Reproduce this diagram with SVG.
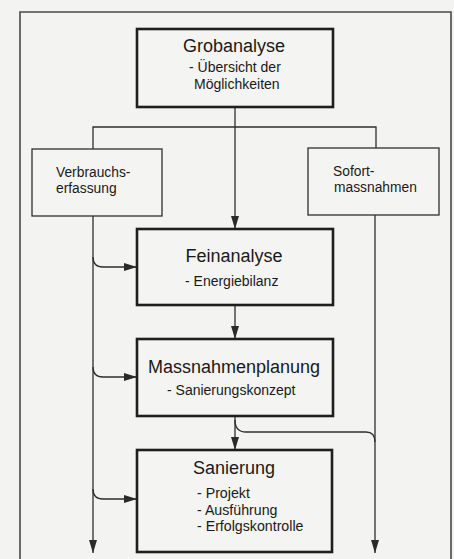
<svg xmlns="http://www.w3.org/2000/svg" width="454" height="559" viewBox="0 0 454 559">
<defs>
<marker id="ah" markerUnits="userSpaceOnUse" markerWidth="14" markerHeight="10" refX="13" refY="4" orient="auto">
<path d="M0,0 L13,4 L0,8 Z" fill="#2a2a2a"/>
</marker>
<style>
.bg{fill:#f3f3f1}
.frame{fill:none;stroke:#4a4a4a;stroke-width:1.6}
.main rect{fill:#f4f4f2;stroke:#1e1e1e;stroke-width:2.6}
.side rect{fill:#f4f4f2;stroke:#2e2e2e;stroke-width:1.3}
.conn path{fill:none;stroke:#2e2e2e;stroke-width:1.3}
.arr{marker-end:url(#ah)}
text{font-family:"Liberation Sans",Arial,sans-serif;fill:#1a1a1a}
.t{font-size:18px;text-anchor:middle}
.s{font-size:14px}
.s15{font-size:14.2px}
.side text{font-size:13.8px}
</style>
</defs>
<rect class="bg" x="0" y="0" width="454" height="559"/>
<path class="frame" d="M20,560 L20,12 L451,12 L451,560"/>

<g id="connectors" class="conn">
<path class="arr" d="M235,107 L235,229"/>
<path d="M93,149 L93,127 L376,127 L376,148"/>
<path class="arr" d="M93,216 L93,553"/>
<path class="arr" d="M375,215 L375,553"/>
<path class="arr" d="M93,257 Q93,267 103,267 L137,267"/>
<path class="arr" d="M93,367 Q93,377 103,377 L137,377"/>
<path class="arr" d="M93,489 Q93,499 103,499 L137,499"/>
<path class="arr" d="M235,305 L235,339"/>
<path class="arr" d="M235,416 L235,450"/>
<path d="M235,420 Q235,432 246,432 L366,432 Q375,432 375,442"/>
</g>

<g id="grobanalyse" class="main">
<rect x="137" y="29" width="196" height="78"/>
<text class="t" x="234" y="52">Grobanalyse</text>
<text class="s" x="189" y="72">- Übersicht der</text>
<text class="s" x="194" y="89">Möglichkeiten</text>
</g>

<g id="verbrauchserfassung" class="side">
<rect x="32" y="149" width="130" height="67"/>
<text x="56" y="177">Verbrauchs-</text>
<text x="56" y="193">erfassung</text>
</g>

<g id="sofortmassnahmen" class="side">
<rect x="308" y="148" width="131" height="67"/>
<text x="333" y="176">Sofort-</text>
<text x="334" y="192">massnahmen</text>
</g>

<g id="feinanalyse" class="main">
<rect x="137" y="229" width="196" height="76"/>
<text class="t" x="234" y="262">Feinanalyse</text>
<text class="s" x="185" y="286">- Energiebilanz</text>
</g>

<g id="massnahmenplanung" class="main">
<rect x="137" y="339" width="196" height="77"/>
<text class="t" x="234" y="373">Massnahmenplanung</text>
<text class="s" x="167" y="395">- Sanierungskonzept</text>
</g>

<g id="sanierung" class="main">
<rect x="137" y="450" width="195" height="102"/>
<text class="t" x="234" y="474">Sanierung</text>
<text class="s15" x="197" y="498">- Projekt</text>
<text class="s15" x="197" y="514.5">- Ausführung</text>
<text class="s15" x="197" y="531">- Erfolgskontrolle</text>
</g>
</svg>
